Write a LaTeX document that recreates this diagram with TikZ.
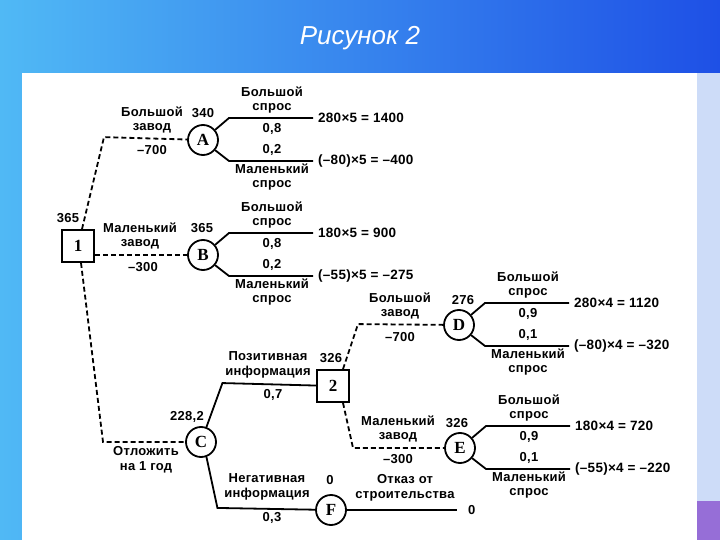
\documentclass[tikz,border=0pt]{standalone}
\usepackage{fontspec}
\setmainfont{Liberation Sans}
\newfontfamily\labfont[LetterSpace=2]{Liberation Sans}
\newfontfamily\letterfont{Liberation Serif}
\definecolor{skyleft}{RGB}{80,185,245}
\definecolor{skyright}{RGB}{30,80,230}
\definecolor{paleedge}{RGB}{205,220,248}
\definecolor{lilac}{RGB}{150,110,215}

\begin{document}
\begin{tikzpicture}[x=1pt, y=-1pt,
  dbox/.style={draw, line width=1.8pt, minimum size=32pt, inner sep=0pt,
    font=\letterfont\bfseries\fontsize{17}{17}\selectfont},
  chance/.style={draw, circle, line width=1.8pt, minimum size=30pt, inner sep=0pt,
    font=\letterfont\bfseries\fontsize{17}{17}\selectfont},
  lab/.style={align=center, inner sep=1pt, font=\labfont\bfseries\fontsize{13}{14.5}\selectfont},
  pay/.style={anchor=west, inner xsep=5pt, font=\labfont\bfseries\fontsize{13.5}{15}\selectfont},
  sline/.style={line width=1.8pt},
  dline/.style={line width=1.8pt, dash pattern=on 5pt off 3pt}]
\useasboundingbox (0,0) rectangle (720,540);
% slide background
\shade[left color=skyleft, right color=skyright] (0,0) rectangle (720,540);
\fill[paleedge] (697,73) rectangle (720,501);
\fill[lilac] (697,501) rectangle (720,540);
\fill[white] (22,73) rectangle (697,540);
\node[anchor=base, text=white, font=\itshape\fontsize{26}{26}\selectfont] (title) at (360,45) {Рисунок 2};

% decision and chance nodes
\node[dbox] (n1) at (78,246) {1};
\node[chance] (nA) at (203,140) {A};
\node[chance] (nB) at (203,255) {B};
\node[chance] (nC) at (201,442) {C};
\node[dbox] (n2) at (333,386) {2};
\node[chance] (nD) at (459,325) {D};
\node[chance] (nE) at (460,448) {E};
\node[chance] (nF) at (331,510) {F};

% expected values
\node[lab] (v1) at (68,218) {365};
\node[lab] (vA) at (203,113) {340};
\node[lab] (vB) at (202,228) {365};
\node[lab] (vC) at (187,417) {228,2};
\node[lab] (v2) at (331,358) {326};
\node[lab] (vD) at (463,300) {276};
\node[lab] (vE) at (457,423) {326};
\node[lab] (vF) at (330,480) {0};

% branches
\draw[dline] ([xshift=4]n1.north) -- ++(22,-92) -- (nA);
\draw[dline] (n1.east |- nB) -- (nB);
\draw[dline] ([xshift=3]n1.south) -- ++(22,179) -- (nC);
\draw[sline] (nC.70) -- ++(16,-44) -- (n2);
\draw[sline] (nC.-70) -- ++(11,51) -- (nF);
\coordinate (fend) at (457,510);
\draw[sline] (nF) -- (fend);
\node[lab, anchor=west] (v0) at ([xshift=10]fend) {0};
\draw[dline] ([xshift=10]n2.north) -- ++(15,-45) -- (nD);
\draw[dline] ([xshift=10]n2.south) -- ++(10,45) -- (nE);

\node[lab] (lA) at (152,120) {Большой\\завод};
\node[lab] (cA) at (152,150) {–700};
\node[lab] (lB) at (140,236) {Маленький\\завод};
\node[lab] (cB) at (143,267) {–300};
\node[lab] (lC) at (146,460) {Отложить\\на 1 год};
\node[lab] (lP) at (268,365) {Позитивная\\информация};
\node[lab] (pP) at (273,395) {0,7};
\node[lab] (lN) at (267,487) {Негативная\\информация};
\node[lab] (pN) at (272,518) {0,3};
\node[lab] (lD) at (400,306) {Большой\\завод};
\node[lab] (cD) at (400,337) {–700};
\node[lab] (lE) at (398,429) {Маленький\\завод};
\node[lab] (cE) at (398,459) {–300};
\node[lab] (lF) at (405,488) {Отказ от\\строительства};

% demand outcomes
\foreach \nd/\ph/\pl/\vh/\vl in {
    nA/{0,8}/{0,2}/{280×5 = 1400}/{(–80)×5 = –400},
    nB/{0,8}/{0,2}/{180×5 = 900}/{(–55)×5 = –275},
    nD/{0,9}/{0,1}/{280×4 = 1120}/{(–80)×4 = –320},
    nE/{0,9}/{0,1}/{180×4 = 720}/{(–55)×4 = –220}} {
  \node[pay] (\nd-vh) at ([shift={(110,-22)}]\nd.center) {\vh};
  \node[pay] (\nd-vl) at ([shift={(110,21)}]\nd.center) {\vl};
  \draw[sline] (\nd.40) -- ([shift={(26,-22)}]\nd.center) -- (\nd-vh.west);
  \draw[sline] (\nd.-40) -- ([shift={(26,21)}]\nd.center) -- (\nd-vl.west);
  \node[lab] (\nd-big) at ([shift={(69,-40)}]\nd.center) {Большой\\спрос};
  \node[lab] (\nd-ph) at ([shift={(69,-11)}]\nd.center) {\ph};
  \node[lab] (\nd-pl) at ([shift={(69,10)}]\nd.center) {\pl};
  \node[lab] (\nd-small) at ([shift={(69,37)}]\nd.center) {Маленький\\спрос};
}
\end{tikzpicture}
\end{document}
